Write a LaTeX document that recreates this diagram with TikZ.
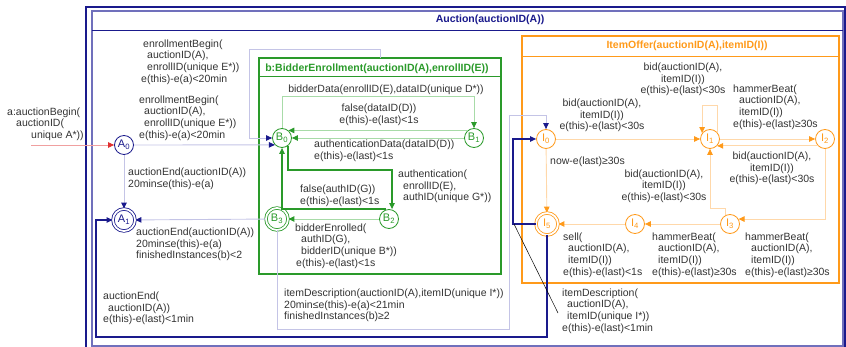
\documentclass[tikz,border=0pt]{standalone}
\usepackage{fontspec}
\setmainfont{Liberation Sans}
\usetikzlibrary{arrows.meta,calc}
\definecolor{navy}{HTML}{1A1A8C}
\definecolor{lav}{HTML}{C4C4E6}
\definecolor{slate}{HTML}{7070BC}
\definecolor{grn}{HTML}{2A9A2A}
\definecolor{lgrn}{HTML}{A8DBA8}
\definecolor{org}{HTML}{FF9A1A}
\definecolor{lorg}{HTML}{FFD8AA}
\definecolor{txt}{HTML}{333333}
\definecolor{inred}{HTML}{E03030}
\definecolor{linred}{HTML}{F0A0A0}
\newcommand\lblfont{\fontsize{10.5}{11.6}\selectfont}
\newcommand\ttlfont{\fontsize{10.5}{12}\selectfont\bfseries}
\newcommand\stfont{\fontsize{11}{12}\selectfont}
\newcommand\sub[1]{\textsubscript{#1}}
\tikzset{
 lbl/.style={inner sep=0pt, text=txt, font=\lblfont, align=left, anchor=west},
 lblc/.style={inner sep=0pt, text=txt, font=\lblfont, align=center},
 ttl/.style={inner sep=0pt, font=\ttlfont},
 sA/.style={circle, draw=navy, fill=white, line width=0.8pt, minimum size=19pt, inner sep=0pt, text=navy, font=\stfont},
 fA/.style={sA, double=white, double distance=1.8pt, minimum size=22pt},
 sB/.style={sA, draw=grn, text=grn},
 fB/.style={fA, draw=grn, text=grn},
 sI/.style={sA, draw=org, text=org},
 fI/.style={fA, draw=org, text=org},
 tN/.style={draw=lav, line width=0.9pt, -{Triangle[length=6pt,width=5.5pt,color=navy]}},
 tND/.style={draw=navy, line width=1.2pt, -{Triangle[length=6pt,width=5.5pt,color=navy]}},
 tG/.style={draw=lgrn, line width=0.9pt, -{Triangle[length=6pt,width=5.5pt,color=grn]}},
 tGD/.style={draw=grn, line width=1.2pt, -{Triangle[length=6pt,width=5.5pt,color=grn]}},
 tO/.style={draw=lorg, line width=0.9pt, -{Triangle[length=6pt,width=5.5pt,color=org]}},
 box/.style={draw, inner sep=0pt, outer sep=0pt, anchor=north west}
}
\begin{document}
\begin{tikzpicture}[x=1pt,y=-1pt]
\useasboundingbox (0,0) rectangle (846,347);
% frames
\node[box, draw=navy, line width=1.2pt, minimum width=759pt, minimum height=345pt] (outer) at (86,7) {};
\node[box, draw=slate, line width=1.6pt, minimum width=751pt, minimum height=335pt] (auc) at (92,11) {};
\draw[navy, line width=1pt] (auc.west |- 0,31) -- (auc.east |- 0,31);
\node[ttl, text=navy] (auct) at (490,20) {Auction(auctionID(A))};
\node[box, draw=grn, line width=1.2pt, minimum width=242pt, minimum height=216pt] (bbox) at (259,58) {};
\draw[grn, line width=1pt] (bbox.west |- 0,77) -- (bbox.east |- 0,77);
\node[ttl, text=grn] (bttl) at (377,68.5) {b:BidderEnrollment(auctionID(A),enrollID(E))};
\node[box, draw=org, line width=1.2pt, minimum width=317pt, minimum height=247pt] (ibox) at (522,36) {};
\draw[org, line width=1pt] (ibox.west |- 0,57) -- (ibox.east |- 0,57);
\node[ttl, text=org] (ittl) at (687,46) {ItemOffer(auctionID(A),itemID(I))};
% states
\node[sA] (A0) at (124,145) {A\sub{0}};
\node[fA] (A1) at (124,220) {A\sub{1}};
\node[sB] (B0) at (282,138) {B\sub{0}};
\node[sB] (B1) at (474,138) {B\sub{1}};
\node[sB] (B2) at (389,219) {B\sub{2}};
\node[fB] (B3) at (277,219) {B\sub{3}};
\node[sI] (I0) at (546,139) {I\sub{0}};
\node[sI] (I1) at (710,139) {I\sub{1}};
\node[sI] (I2) at (825,139) {I\sub{2}};
\node[sI] (I3) at (730,224) {I\sub{3}};
\node[sI] (I4) at (635,224) {I\sub{4}};
\node[fI] (I5) at (547,224) {I\sub{5}};
\coordinate (inpt) at (31,145);
% connectors
\draw[draw=linred, line width=0.8pt, -{Triangle[length=6pt,width=5.5pt,color=inred]}] (inpt) -- (A0);
\draw[tN] (A0) -- (A1);
\draw[tN] (A0) -- (B0.224);
\draw[tN] ($(bbox.north west)+(121,0)$) -- ++(0,-9) -| ($(B0.west)+(-23,0)$) -- (B0.west);
\draw[tG] (B0.north) -- (B0.north |- 0,96) -| (B1.north);
\draw[tG] (B1.130) -- (B0.50);
\draw[tG] (B1) -- (B0);
\draw[tGD] (B0.-52) -- (B0.-52 |- 0,170) -| ($(B2.north)+(3,0)$);
\draw[tGD] ($(B2.north)+(-3,0)$) -- ($(B2.north)+(-3,0)$ |- 0,179) -| (B0.south);
\draw[tG] (B2) -- (B3);
\draw[tN] (B3) -- (A1);
\draw[tN] (B3.south) |- (509,329) -- (509,115) -| (I0.north);
\draw[tND] (I5.south) |- (96,337) |- (A1.west);
\draw[tND] (I5.west) -- (I5.west -| 513,0) |- (I0.west);
\coordinate (nc) at (514,224);
\draw[tO] (I0) -- (I5);
\draw[tO] (I0) -- (I1);
\draw[tO] (I1.45) -- ++(0,-27) -| (I1.143);
\draw[tO] (I1) -- (I2);
\draw[tO] (I2.224) -- (I1.316);
\draw[tO] (I2.south) |- (I3.30);
\draw[tO] (I3.120) -- (I3.120 |- 0,208) -| (I1.south);
\draw[tO] (I3) -- (I4);
\draw[tO] (I4) -- (I5);
% labels
\node[lbl] (lin) at (7,124) {a:auctionBegin(\\\hspace*{9pt}auctionID(\\\hspace*{24pt}unique A*))};
\node[lbl] (le1) at (141,62) {\hspace*{2pt}enrollmentBegin(\\\hspace*{6pt}auctionID(A),\\\hspace*{6pt}enrollID(unique E*))\\e(this)-e(a)<20min};
\node[lbl] (le2) at (139,118) {enrollmentBegin(\\\hspace*{5pt}auctionID(A),\\\hspace*{5pt}enrollID(unique E*))\\e(this)-e(a)<20min};
\node[lbl] (la01) at (128,178.5) {auctionEnd(auctionID(A))\\20min≤e(this)-e(a)};
\node[lbl] (lb3a) at (136,244.5) {auctionEnd(auctionID(A))\\20min≤e(this)-e(a)\\finishedInstances(b)<2};
\node[lbl] (li5a) at (103,308.5) {auctionEnd(\\\hspace*{5pt}auctionID(A))\\e(this)-e(last)<1min};
\node[lblc] (lbd) at (386,90) {bidderData(enrollID(E),dataID(unique D*))};
\node[lblc] (lfd) at (379,114.5) {false(dataID(D))\\e(this)-e(last)<1s};
\node[lbl] (lad) at (314,151) {authenticationData(dataID(D))\\e(this)-e(last)<1s};
\node[lbl] (lau) at (398,186.5) {authentication(\\\hspace*{5pt}enrollID(E),\\\hspace*{5pt}authID(unique G*))};
\node[lbl] (lfa) at (300,196) {false(authID(G))\\e(this)-e(last)<1s};
\node[lbl] (lbe) at (295,246) {bidderEnrolled(\\\hspace*{6pt}authID(G),\\\hspace*{6pt}bidderID(unique B*))\\\hspace*{1pt}e(this)-e(last)<1s};
\node[lbl] (lid) at (284,305.5) {itemDescription(auctionID(A),itemID(unique I*))\\20min≤e(this)-e(a)<21min\\finishedInstances(b)≥2};
\node[lblc] (l01) at (602,115.5) {bid(auctionID(A),\\itemID(I))\\e(this)-e(last)<30s};
\node[lblc] (l11) at (683,79.5) {bid(auctionID(A),\\itemID(I))\\e(this)-e(last)<30s};
\node[lbl] (l12) at (733,107) {hammerBeat(\\\hspace*{6pt}auctionID(A),\\\hspace*{6pt}itemID(I))\\e(this)-e(last)≥30s};
\node[lblc] (l21) at (772,168.5) {bid(auctionID(A),\\itemID(I))\\e(this)-e(last)<30s};
\node[lblc] (l31) at (664,186) {bid(auctionID(A),\\itemID(I))\\e(this)-e(last)<30s};
\node[lbl] (l05) at (550,162) {now-e(last)≥30s};
\node[lbl] (l45) at (563,255) {sell(\\\hspace*{5pt}auctionID(A),\\\hspace*{5pt}itemID(I))\\e(this)-e(last)<1s};
\node[lbl] (l34) at (652,255) {hammerBeat(\\\hspace*{6pt}auctionID(A),\\\hspace*{6pt}itemID(I))\\e(this)-e(last)≥30s};
\node[lbl] (l23) at (745,255) {hammerBeat(\\\hspace*{6pt}auctionID(A),\\\hspace*{6pt}itemID(I))\\e(this)-e(last)≥30s};
\node[lbl] (l50) at (562,311) {itemDescription(\\\hspace*{5pt}auctionID(A),\\\hspace*{5pt}itemID(unique I*))\\e(this)-e(last)<1min};
\draw[black, line width=0.5pt] (nc) -- ($(l50.west)+(-4,2)$);
\end{tikzpicture}
\end{document}
